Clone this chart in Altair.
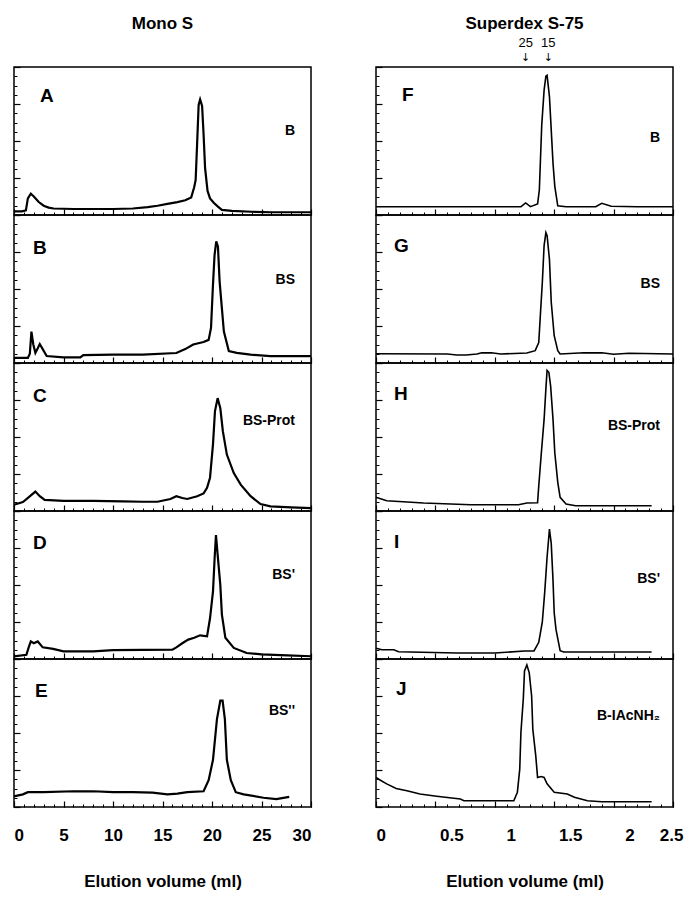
import altair as alt
import pandas as pd

# ---------------- Mono S (elution volume, ml ; relative absorbance) ----------------
A_v = [0, 0.8, 1.2, 1.4, 1.7, 2.0, 2.5, 3.0, 3.5, 4.0, 6, 8, 10, 12, 13.5, 14.5, 15.5, 16.5, 17.3, 17.9,
       18.2, 18.35, 18.5, 18.65, 18.8, 19.0, 19.15, 19.3, 19.55, 19.8, 20.2, 20.6, 21, 22, 24, 26, 28, 30]
A_a = [0.4, 0.4, 0.5, 1.8, 2.3, 2.0, 1.4, 1.0, 0.8, 0.7, 0.65, 0.65, 0.65, 0.7, 0.85, 1.0, 1.2, 1.4, 1.6, 1.9,
       3.0, 3.8, 7.8, 11.9, 12.5, 11.8, 8.7, 5.1, 2.6, 1.8, 1.3, 0.9, 0.55, 0.45, 0.35, 0.3, 0.3, 0.3]

B_v = [0, 1.4, 1.6, 1.76, 1.95, 2.16, 2.4, 2.6, 2.9, 3.3, 5, 6.7, 7, 10, 13, 16.4, 17.3, 18.1, 19.15, 19.66,
       19.9, 20.1, 20.26, 20.43, 20.6, 20.77, 21.0, 21.2, 21.7, 22.5, 23.9, 25.9, 30]
B_a = [0.55, 0.55, 1.0, 3.4, 2.0, 1.1, 1.6, 2.05, 1.5, 0.75, 0.6, 0.6, 0.85, 0.9, 0.9, 1.08, 1.5, 2.0, 2.27, 2.5,
       3.8, 8.5, 11.7, 13.15, 12.6, 8.8, 5.9, 3.4, 1.3, 1.1, 0.9, 0.75, 0.75]

C_v = [0, 0.9, 1.5, 2.16, 2.6, 3.1, 5, 8, 11, 13, 14.5, 15.8, 16.4, 17.0, 17.5, 18.5, 19.15, 19.5, 19.8, 20.1,
       20.3, 20.57, 20.84, 21.1, 21.5, 22.2, 22.9, 23.9, 24.9, 25.9, 28, 30]
C_a = [0.68, 0.97, 1.5, 2.1, 1.6, 1.2, 1.1, 1.1, 1.05, 1.0, 1.0, 1.3, 1.6, 1.4, 1.3, 1.6, 1.9, 2.5, 3.6, 7.2,
       10.8, 12.2, 11.1, 8.6, 6.1, 4.1, 2.85, 1.6, 0.75, 0.5, 0.4, 0.32]

D_v = [0, 1.25, 1.5, 1.7, 2.0, 2.4, 2.9, 3.95, 5, 8, 10, 13, 16, 16.4, 17.0, 17.6, 18.2, 18.8, 19.5, 19.8,
       20.1, 20.27, 20.4, 20.6, 20.84, 21.0, 21.35, 22.2, 23.5, 25, 27.6, 30]
D_a = [0.29, 0.45, 1.3, 1.9, 1.7, 1.9, 1.26, 1.1, 0.83, 0.83, 0.95, 0.98, 1.0, 1.26, 1.7, 2.1, 2.3, 2.56, 2.45, 4.4,
       7.3, 11.0, 13.4, 10.9, 8.0, 4.8, 2.3, 1.2, 0.65, 0.5, 0.4, 0.3]

E_v = [0, 0.9, 1.4, 3, 6, 8, 10, 12, 14, 15.5, 16.5, 17.5, 19.15, 19.66, 20.1, 20.5, 20.84, 21.07, 21.3, 21.5,
       21.9, 22.4, 23.2, 25.2, 26.5, 27.8]
E_a = [1.15, 1.37, 1.6, 1.6, 1.7, 1.7, 1.6, 1.6, 1.55, 1.37, 1.45, 1.6, 1.7, 2.9, 5.1, 9.5, 11.5, 11.5, 9.5, 5.1,
       2.9, 1.6, 1.37, 1.0, 0.85, 1.1]

# ---------------- Superdex S-75 ----------------
F_v = [0, 0.5, 1.0, 1.22, 1.26, 1.3, 1.36, 1.375, 1.395, 1.415, 1.43, 1.44, 1.46, 1.475, 1.49, 1.505, 1.53, 1.6,
       1.85, 1.9, 1.98, 2.2, 2.5]
F_a = [0.9, 0.9, 0.9, 0.9, 1.3, 0.9, 1.2, 2.7, 9.7, 13.5, 15.0, 15.1, 12.8, 9.2, 5.6, 3.1, 1.0, 0.9,
       0.9, 1.26, 0.95, 0.9, 0.9]

G_v = [0, 0.6, 0.68, 0.76, 0.85, 0.89, 0.97, 1.05, 1.27, 1.34, 1.37, 1.385, 1.4, 1.415, 1.43, 1.44, 1.46, 1.475,
       1.5, 1.53, 1.55, 1.75, 1.9, 2.0, 2.13, 2.5]
G_a = [1.0, 0.97, 0.86, 0.86, 0.97, 1.1, 1.1, 0.97, 1.08, 1.33, 2.2, 5.5, 8.7, 12.7, 14.1, 13.8, 11.2, 6.6,
       2.95, 1.33, 0.97, 1.1, 1.1, 0.95, 1.05, 0.97]

H_v = [0, 0.09, 0.4, 0.8, 1.2, 1.27, 1.36, 1.37, 1.39, 1.415, 1.43, 1.44, 1.455, 1.47, 1.49, 1.505, 1.53, 1.55,
       1.6, 1.68, 2.0, 2.32]
H_a = [1.48, 1.1, 0.86, 0.68, 0.68, 0.86, 0.9, 2.7, 6.0, 9.9, 13.2, 15.2, 15.0, 13.5, 9.9, 6.3, 3.1, 1.48,
       0.76, 0.57, 0.57, 0.57]

I_v = [0, 0.05, 0.15, 0.19, 0.68, 1.0, 1.25, 1.33, 1.37, 1.4, 1.42, 1.44, 1.46, 1.475, 1.49, 1.5, 1.515, 1.53,
       1.55, 1.58, 2.0, 2.32]
I_a = [1.16, 1.0, 1.0, 0.79, 0.65, 0.65, 0.87, 0.87, 1.8, 4.0, 7.2, 11.0, 14.05, 12.5, 8.5, 5.0, 3.2, 2.2,
       0.9, 0.75, 0.75, 0.75]

J_v = [0, 0.03, 0.09, 0.17, 0.26, 0.37, 0.51, 0.71, 0.74, 1.16, 1.19, 1.21, 1.22, 1.24, 1.25, 1.27, 1.29, 1.31,
       1.32, 1.345, 1.36, 1.39, 1.415, 1.44, 1.5, 1.61, 1.67, 1.78, 1.9, 2.32]
J_a = [3.2, 2.95, 2.5, 2.0, 1.76, 1.4, 1.16, 0.86, 0.68, 0.68, 1.6, 4.1, 8.1, 11.7, 14.7, 15.35, 14.5, 12.0,
       8.4, 5.5, 3.2, 3.3, 3.2, 2.5, 1.6, 1.4, 1.05, 0.68, 0.57, 0.57]

# markers above panel F
marker_pos = [1.26, 1.45]
marker_lab = ["25", "15"]

left_letters = ["A", "B", "C", "D", "E"]
left_samples = ["B", "BS", "BS-Prot", "BS'", "BS''"]
right_letters = ["F", "G", "H", "I", "J"]
right_samples = ["B", "BS", "BS-Prot", "BS'", "B-IAcNH\u2082"]

left_ticks_minor = list(range(0, 31))
left_ticks_major = [0, 5, 10, 15, 20, 25, 30]
right_ticks_minor = [round(i * 0.1, 1) for i in range(0, 26)]
right_ticks_major = [0, 0.5, 1, 1.5, 2, 2.5]

W = 297
H = 148
YMAX = 16
FONT = "Liberation Sans"


def panel(v, a, letter, sample, xdom, minor, major, bottom, letter_x, letter_y,
          sample_x, sample_y, line_w, extra=None, label_offset=None):
    df = pd.DataFrame({"v": v, "a": a})
    xs = alt.Scale(domain=xdom, nice=False, zero=False)
    ys = alt.Scale(domain=[0, YMAX], nice=False)
    line = alt.Chart(df).mark_line(color="black", strokeWidth=line_w).encode(
        x=alt.X("v:Q", scale=xs,
                axis=alt.Axis(orient="bottom", values=minor, tickSize=3, offset=-3, labels=False,
                              domain=False, grid=False, title=None, tickColor="black", tickWidth=1)),
        y=alt.Y("a:Q", scale=ys,
                axis=alt.Axis(orient="left", values=list(range(YMAX + 1)), tickSize=3, offset=-3,
                              labels=False, domain=False, grid=False, title=None,
                              tickColor="black", tickWidth=1)),
    )
    xmaj = dict(orient="bottom", values=major, tickSize=6, offset=-6, domain=False, grid=False,
                tickColor="black", tickWidth=1.2, format="~g")
    if bottom:
        xmaj.update(labels=True, labelPadding=20, title="Elution volume (ml)", titlePadding=30)
        if label_offset is not None:
            xmaj["labelOffset"] = label_offset
    else:
        xmaj.update(labels=False, title=None)
    ghost = alt.Chart(df).mark_line(opacity=0).encode(
        x=alt.X("v:Q", axis=alt.Axis(**xmaj)),
        y=alt.Y("a:Q", axis=alt.Axis(orient="left", values=[0, 4, 8, 12, 16], tickSize=6, offset=-6,
                                     labels=False, domain=False, grid=False, title=None,
                                     tickColor="black", tickWidth=1.2)),
    )
    lt = alt.Chart(pd.DataFrame({"t": [letter]})).mark_text(
        font=FONT, fontWeight="bold", fontSize=19, align="left", baseline="middle", color="black"
    ).encode(text="t:N", x=alt.value(letter_x), y=alt.value(letter_y))
    st = alt.Chart(pd.DataFrame({"t": [sample]})).mark_text(
        font=FONT, fontWeight="bold", fontSize=14, align="right", baseline="middle", color="black"
    ).encode(text="t:N", x=alt.value(sample_x), y=alt.value(sample_y))
    layers = [line, ghost, lt, st] + (extra or [])
    return alt.layer(*layers).resolve_axis(x="independent", y="independent").properties(width=W, height=H)


def col_title(txt):
    return alt.Chart(pd.DataFrame({"t": [txt]})).mark_text(
        font=FONT, fontWeight="bold", fontSize=17, align="center", baseline="middle", color="black"
    ).encode(text="t:N", x=alt.value(W / 2), y=alt.value(-43))


mk = pd.DataFrame({"m": marker_pos, "lab": marker_lab, "arr": ["\u2193", "\u2193"]})
mk_text = alt.Chart(mk).mark_text(font=FONT, fontSize=13, align="center", baseline="middle",
                                  color="black").encode(
    x=alt.X("m:Q", axis=None), y=alt.value(-24), text="lab:N")
mk_arrow = alt.Chart(mk).mark_text(font="DejaVu Sans", fontSize=11, align="center", baseline="middle",
                                   color="black").encode(
    x=alt.X("m:Q", axis=None), y=alt.value(-9), text="arr:N")

left_data = [(A_v, A_a), (B_v, B_a), (C_v, C_a), (D_v, D_a), (E_v, E_a)]
right_data = [(F_v, F_a), (G_v, G_a), (H_v, H_a), (I_v, I_a), (J_v, J_a)]
left_lx = [26, 19, 19, 19, 21]
left_ly = [29, 33, 33, 32, 32]
left_sy = [64, 65, 58, 64, 52]
right_lx = [26, 18, 18, 18, 20]
right_ly = [28, 31, 31, 31, 30]
right_sy = [71, 69, 63, 68, 57]

r_offset = {"condition": [{"test": "datum.value == 0", "value": 0},
                          {"test": "datum.value >= 2.5", "value": 10}], "value": 16}

panels = []
for i in range(5):
    v, a = left_data[i]
    panels.append(panel(v, a, left_letters[i], left_samples[i], [0, 30], left_ticks_minor,
                        left_ticks_major, i == 4, left_lx[i], left_ly[i], 281, left_sy[i], 2.2,
                        extra=[col_title("Mono S")] if i == 0 else None))
    v, a = right_data[i]
    panels.append(panel(v, a, right_letters[i], right_samples[i], [0, 2.5], right_ticks_minor,
                        right_ticks_major, i == 4, right_lx[i], right_ly[i], 284, right_sy[i], 1.6,
                        extra=[col_title("Superdex S-75"), mk_text, mk_arrow] if i == 0 else None,
                        label_offset=r_offset))

chart = alt.concat(*panels, columns=2, spacing={"row": 0, "column": 65}, bounds="flush").properties(
    padding={"left": 0, "top": 6, "right": 0, "bottom": 0}
).configure_view(
    stroke="black", strokeWidth=1.5
).configure_axis(
    labelFont=FONT, labelFontSize=17, labelFontWeight="bold", labelColor="black",
    titleFont=FONT, titleFontSize=17, titleFontWeight="bold", titleColor="black"
)

chart.save("out.html", embed_options={"renderer": "svg", "actions": False})
